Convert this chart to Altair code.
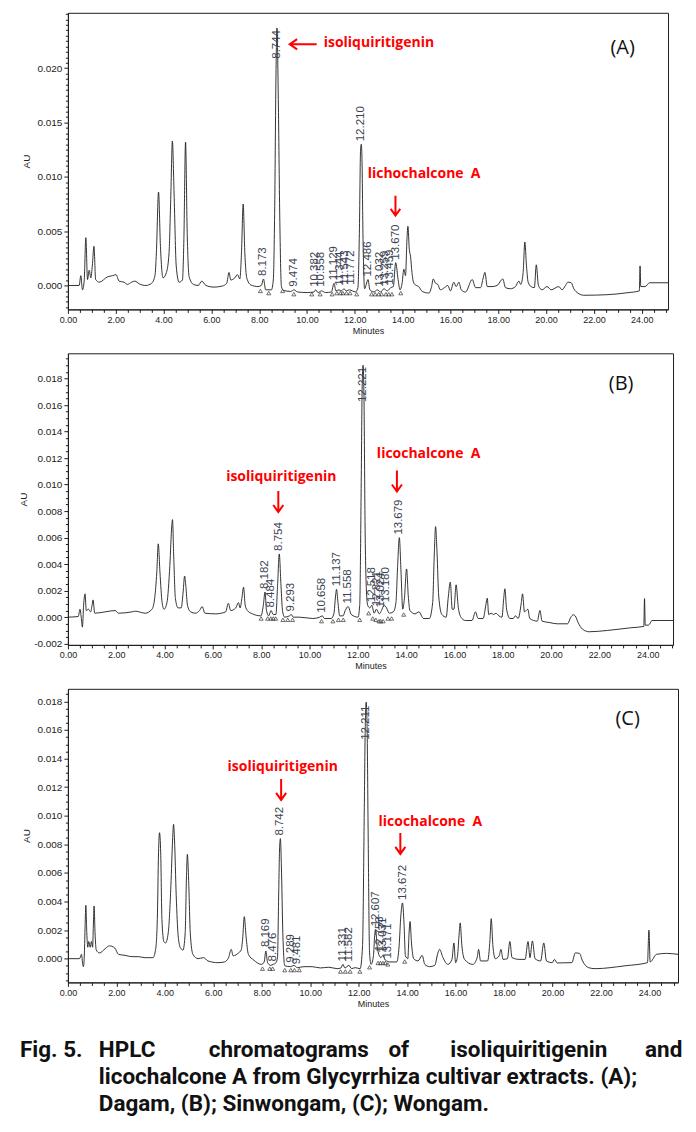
import altair as alt
import pandas as pd

# ---------------- Panel A (Dagam) trace ----------------
A_TIME = [0.00, 0.47, 0.54, 0.61, 0.68, 0.75, 0.82, 0.89, 0.96, 1.02, 1.09, 1.16, 1.31, 1.66, 1.87, 2.01, 2.14, 2.35,
          2.49, 2.66, 2.80, 2.98, 3.26, 3.50, 3.64, 3.70, 3.79, 3.87, 3.98, 4.12, 4.23, 4.30, 4.37, 4.44, 4.53, 4.65,
          4.79, 4.85, 4.92, 4.99, 5.07, 5.25, 5.45, 5.60, 5.77, 6.11, 6.46, 6.64, 6.74, 6.81, 6.98, 7.09, 7.19, 7.26,
          7.33, 7.40, 7.48, 7.65, 7.95, 8.09, 8.18, 8.27, 8.51, 8.59, 8.65, 8.70, 8.744, 8.80, 8.86, 8.93, 9.01, 9.32,
          9.46, 9.60, 10.01, 10.29, 10.36, 10.46, 10.60, 10.78, 11.02, 11.13, 11.21, 11.34, 11.43, 11.55, 11.64, 11.77,
          11.90, 12.03, 12.13, 12.19, 12.24, 12.27, 12.30, 12.34, 12.41, 12.48, 12.55, 12.63, 12.80, 12.94, 13.08,
          13.22, 13.36, 13.50, 13.61, 13.71, 13.81, 13.89, 13.98, 14.05, 14.12, 14.18, 14.22, 14.28, 14.33, 14.39,
          14.47, 14.58, 14.67, 14.82, 15.10, 15.21, 15.28, 15.38, 15.47, 15.58, 15.75, 15.89, 16.00, 16.14, 16.24,
          16.35, 16.45, 16.63, 16.91, 17.05, 17.26, 17.37, 17.44, 17.54, 17.74, 17.95, 18.19, 18.30, 18.51, 18.72,
          18.86, 18.94, 19.04, 19.11, 19.18, 19.25, 19.37, 19.51, 19.59, 19.68, 19.83, 20.04, 20.21, 20.53, 20.67,
          20.81, 20.91, 21.05, 21.16, 21.33, 21.58, 22.55, 23.39, 23.90, 23.93, 23.96, 24.14, 24.33, 25.10]
A_AU = [0.0, 0.0, 0.0009, -0.0004, 0.0004, 0.0044, 0.00055, 0.0014, 0.0007, 0.0018, 0.0036, 0.00055, 0.0003, 0.0008,
        0.0009, 0.001, 0.0004, 0.0003, 0.0001, 0.0003, 0.0004, 0.00015, 0.0, 0.0002, 0.0009, 0.003, 0.0086, 0.0036,
        0.0007, 0.0012, 0.003, 0.0079, 0.0133, 0.0085, 0.0018, 0.0003, 0.0005, 0.0042, 0.0132, 0.0048, 0.0008, 0.0001,
        0.0, 0.0004, 0.0, -0.00015, -0.00005, 0.0002, 0.0012, 0.0005, 0.0007, 0.001, 0.0006, 0.003, 0.0075, 0.003,
        0.0007, 0.00005, -0.0001, 0.0, 0.0006, -0.0004, -0.0004, 0.0005, 0.0073, 0.019, 0.0237, 0.0171, 0.0064,
        -0.0001, -0.00045, -0.00055, -0.0004, -0.0006, -0.00065, -0.0006, -0.0004, -0.00065, -0.0005, -0.00065,
        -0.0006, 0.0002, -0.0005, -0.0004, -0.0005, -0.0003, -0.0005, -0.0004, -0.0005, -0.0006, -0.0002, 0.0048,
        0.0125, 0.013, 0.0116, 0.0048, -0.0003, 0.0001, 0.00055, -0.0004, -0.0006, -0.0004, -0.0006, -0.0003, -0.0005,
        -0.0002, -0.0001, 0.0021, 0.00055, -0.0004, 0.00025, 0.0015, 0.0009, 0.0042, 0.00545, 0.0033, 0.0027, 0.0012,
        0.0002, 0.0, -0.0001, -0.00055, -0.0007, -0.0001, 0.0006, 0.0002, 0.0001, -0.0004, -0.0002, 0.0, -0.0005,
        0.0003, -0.0001, 0.0003, -0.0004, -0.0006, 0.00055, -0.0002, -0.0002, 0.0007, 0.0012, -0.0001, -0.0001, 0.0,
        0.0006, -0.0002, -0.0003, -0.0001, 0.0004, 0.0001, 0.0012, 0.004, 0.0018, 0.0003, -0.0001, -0.0002, 0.0019,
        0.0, -0.0004, -0.0001, -0.0004, -0.0001, -0.0004, 0.0, 0.0003, 0.00025, -0.0003, -0.0007, -0.0009, -0.00085,
        -0.00067, -0.0005, 0.0018, -0.0001, -0.0001, 0.00025, 0.00025]
A_PEAK_TEXT = ["8.173", "8.744", "9.474", "10.382", "10.558", "11.129", "11.344", "11.543", "11.772", "12.210",
               "12.486", "13.032", "13.259", "13.459", "13.670"]
A_PEAK_TIME = [8.18, 8.744, 9.47, 10.34, 10.58, 11.13, 11.37, 11.58, 11.82, 12.27, 12.57, 13.05, 13.25, 13.47, 13.73]
A_PEAK_AU = [0.0006, 0.0237, -0.0004, -0.0004, -0.0004, 0.0002, -0.0003, -0.0002, -0.0002, 0.013, 0.00055, -0.0004,
             -0.0003, -0.0002, 0.0021]
A_TRI_TIME = [8.05, 8.40, 8.98, 9.45, 10.20, 10.55, 11.05, 11.25, 11.40, 11.50, 11.65, 11.80, 12.08, 12.70, 12.85,
              13.00, 13.12, 13.30, 13.42, 13.55, 13.92]
A_TRI_AU = [-0.0005, -0.0007, -0.0005, -0.0008, -0.0008, -0.0008, -0.0008, -0.0007, -0.0007, -0.0007, -0.0007,
            -0.0007, -0.0008, -0.0008, -0.0008, -0.0008, -0.0008, -0.0008, -0.0008, -0.0008, -0.0007]

# ---------------- Panel B (Sinwongam) trace ----------------
B_TIME = [0.0, 0.43, 0.5, 0.55, 0.6, 0.65, 0.71, 0.76, 0.85, 0.94, 1.0, 1.04, 1.11, 1.54, 1.96, 2.09, 2.65, 2.79, 3.2,
          3.48, 3.59, 3.68, 3.74, 3.81, 3.9, 3.98, 4.1, 4.22, 4.3, 4.33, 4.38, 4.45, 4.56, 4.69, 4.77, 4.83, 4.88, 4.95,
          5.08, 5.28, 5.45, 5.56, 5.67, 6.12, 6.53, 6.64, 6.74, 6.95, 7.06, 7.13, 7.2, 7.27, 7.34, 7.43, 7.64, 7.99,
          8.09, 8.16, 8.22, 8.31, 8.41, 8.5, 8.61, 8.68, 8.75, 8.82, 8.89, 8.97, 9.17, 9.25, 9.33, 9.58, 10.14, 10.42,
          10.53, 10.62, 10.9, 11.01, 11.08, 11.12, 11.18, 11.25, 11.39, 11.48, 11.6, 11.73, 12.01, 12.08, 12.14, 12.18,
          12.22, 12.26, 12.3, 12.36, 12.41, 12.5, 12.58, 12.68, 12.77, 12.89, 12.98, 13.09, 13.19, 13.3, 13.47, 13.58,
          13.65, 13.72, 13.79, 13.86, 13.93, 14.02, 14.09, 14.16, 14.37, 14.53, 14.72, 14.96, 15.1, 15.17, 15.22,
          15.28, 15.35, 15.48, 15.66, 15.74, 15.83, 15.91, 15.98, 16.07, 16.16, 16.27, 16.45, 16.73, 16.87, 16.98,
          17.19, 17.3, 17.36, 17.42, 17.52, 17.63, 17.72, 17.84, 17.97, 18.04, 18.09, 18.16, 18.3, 18.43, 18.53,
          18.64, 18.77, 18.82, 18.9, 19.04, 19.12, 19.43, 19.54, 19.63, 19.92, 20.26, 20.68, 20.82, 20.92, 21.0,
          21.12, 21.3, 21.58, 22.34, 23.3, 23.84, 23.87, 23.9, 24.04, 24.18, 25.05]
B_AU = [0.0, 0.00005, 0.0006, 0.0, -0.00075, 0.0009, 0.00176, 0.0005, 0.0006, 0.0004, 0.0009, 0.0013, 0.0003, 0.0004,
        0.0005, 0.0003, 0.0004, 0.00045, 0.0003, 0.0006, 0.0014, 0.0034, 0.00553, 0.0034, 0.0011, 0.0006, 0.0011,
        0.0039, 0.0069, 0.00736, 0.0046, 0.0014, 0.0007, 0.0007, 0.0019, 0.0031, 0.0024, 0.0009, 0.0004, 0.0003,
        0.0005, 0.0008, 0.0003, 0.00025, 0.0004, 0.00105, 0.0005, 0.0007, 0.0011, 0.0007, 0.0014, 0.00226, 0.0009,
        0.0005, 0.00025, 0.0001, 0.0009, 0.0019, 0.0005, 0.0001, 0.0005, 0.0002, 0.0002, 0.0024, 0.00477, 0.0024,
        0.0004, 0.0, 0.0001, 0.0002, 0.0, 0.0, -0.0001, 0.0, 0.0001, -0.0001, -0.0001, 0.00025, 0.0016, 0.0021, 0.0011,
        0.0001, 0.0001, 0.0005, 0.0008, 0.0002, 0.0, 0.0009, 0.0097, 0.0172, 0.019, 0.016, 0.0072, 0.0019, 0.0009,
        0.0007, 0.0009, 0.0003, 0.0006, 0.00025, 0.0005, 0.0009, 0.0007, 0.0003, 0.0004, 0.0011, 0.0039, 0.006,
        0.0034, 0.0006, 0.0014, 0.00364, 0.0016, 0.0005, 0.00025, 0.0004, -0.0001, -0.0001, 0.0011, 0.0049, 0.00683,
        0.0049, 0.0016, 0.0002, 0.0, 0.0014, 0.00264, 0.0006, 0.0006, 0.00244, 0.00075, 0.0, -0.00025, -0.00025,
        0.0004, -0.0001, -0.0001, 0.0009, 0.00143, 0.0002, 0.0003, 0.0002, 0.0003, 0.0001, 0.0, 0.0014, 0.00214,
        0.0006, -0.0001, -0.0001, 0.0001, -0.0001, 0.0011, 0.00176, 0.0004, 0.0006, -0.0001, -0.0003, 0.0005, -0.0003,
        -0.0004, -0.0005, -0.0005, 0.0, 0.00018, 0.0001, -0.0004, -0.0009, -0.0011, -0.001, -0.0008, -0.0007, 0.0014,
        -0.0006, -0.0006, -0.00025, -0.00025]
B_PEAK_TEXT = ["8.182", "8.484", "8.754", "9.293", "10.658", "11.137", "11.558", "12.221", "12.518", "12.821",
               "13.024", "13.180", "13.679"]
B_PEAK_TIME = [8.15, 8.41, 8.75, 9.25, 10.53, 11.12, 11.58, 12.22, 12.57, 12.80, 12.98, 13.17, 13.72]
B_PEAK_AU = [0.0019, 0.0005, 0.00477, 0.0002, 0.0001, 0.0021, 0.0008, 0.019, 0.0009, 0.0006, 0.0005, 0.0009, 0.006]
B_TRI_TIME = [8.00, 8.27, 8.40, 8.50, 8.60, 8.90, 9.10, 9.30, 10.50, 10.97, 11.20, 11.40, 12.08, 12.45, 12.62, 12.75,
              12.88, 12.95, 13.05, 13.25, 13.40, 13.90]
B_TRI_AU = [-0.0001, -0.0001, -0.0001, -0.0001, -0.0001, -0.0002, -0.0002, -0.0002, -0.0003, -0.0003, -0.0002,
            -0.0002, -0.0002, 0.0003, -0.0001, -0.0002, -0.0003, -0.0003, -0.0003, -0.0001, -0.0001, 0.0002]

# ---------------- Panel C (Wongam) trace ----------------
C_TIME = [0.0, 0.48, 0.56, 0.61, 0.64, 0.68, 0.71, 0.74, 0.78, 0.82, 0.86, 0.92, 0.97, 1.02, 1.05, 1.08, 1.12, 1.17,
          1.3, 1.54, 1.71, 1.93, 2.09, 2.36, 2.64, 2.91, 3.18, 3.51, 3.62, 3.69, 3.74, 3.78, 3.83, 3.88, 3.96, 4.03,
          4.14, 4.25, 4.32, 4.36, 4.4, 4.47, 4.55, 4.64, 4.75, 4.84, 4.89, 4.93, 4.99, 5.05, 5.16, 5.37, 5.6, 5.78,
          6.19, 6.46, 6.63, 6.74, 6.82, 7.04, 7.15, 7.21, 7.28, 7.35, 7.45, 7.67, 7.99, 8.1, 8.17, 8.24, 8.37, 8.47,
          8.58, 8.65, 8.7, 8.74, 8.77, 8.81, 8.87, 8.95, 9.19, 9.33, 9.47, 9.74, 10.08, 10.42, 10.77, 11.11, 11.27,
          11.35, 11.43, 11.6, 11.71, 11.85, 12.06, 12.16, 12.23, 12.27, 12.31, 12.35, 12.39, 12.45, 12.51, 12.61,
          12.66, 12.7, 12.76, 12.83, 12.92, 12.99, 13.1, 13.29, 13.57, 13.67, 13.74, 13.81, 13.87, 13.93, 14.03,
          14.08, 14.12, 14.18, 14.27, 14.45, 14.62, 14.73, 14.93, 15.14, 15.27, 15.34, 15.48, 15.68, 15.85, 15.93,
          16.0, 16.08, 16.15, 16.19, 16.26, 16.37, 16.71, 16.89, 16.95, 17.03, 17.32, 17.42, 17.47, 17.54, 17.64,
          17.8, 17.87, 17.96, 18.14, 18.24, 18.33, 18.62, 18.87, 18.99, 19.07, 19.17, 19.28, 19.51, 19.64, 19.75,
          19.99, 20.08, 20.19, 20.8, 20.94, 21.11, 21.24, 21.49, 21.76, 22.99, 23.92, 23.98, 24.03, 24.29, 24.7, 25.18]
C_AU = [0.0, 0.0, 0.0003, -0.0004, -0.00056, 0.0004, 0.0023, 0.00373, 0.0018, 0.0008, 0.0012, 0.0008, 0.0012, 0.0008,
        0.0023, 0.00368, 0.0018, 0.0006, 0.0004, 0.0007, 0.0009, 0.00075, 0.0003, 0.00023, 0.00014, 0.00014, 0.00007,
        0.00007, 0.00065, 0.00275, 0.0074, 0.00881, 0.0074, 0.00275, 0.0012, 0.0011, 0.0018, 0.0051, 0.0083, 0.0094,
        0.0083, 0.0044, 0.0016, 0.00077, 0.0006, 0.0018, 0.0055, 0.0073, 0.0051, 0.0018, 0.0003, 0.0, 0.00007,
        -0.00016, -0.00028, -0.00023, 0.00007, 0.00065, 0.0002, 0.0004, 0.0006, 0.00135, 0.00294, 0.0016, 0.0003,
        -0.0001, -0.0004, -0.00023, 0.00054, -0.00028, -0.00047, -0.0004, -0.0003, 0.00007, 0.0046, 0.0079, 0.0084,
        0.0065, 0.0018, -0.0005, -0.00056, -0.00047, -0.00063, -0.00056, -0.00056, -0.00065, -0.0006, -0.0007,
        -0.00065, -0.0004, -0.00065, -0.00047, -0.0007, -0.00063, -0.0007, 0.0009, 0.0102, 0.016, 0.01795, 0.016,
        0.009, 0.0004, -0.0004, 0.0002, 0.0016, 0.00205, 0.0009, 0.0003, 0.00007, 0.00023, -0.0001, -0.00023,
        -0.00023, 0.0009, 0.003, 0.0039, 0.0025, 0.0002, 0.0, 0.0018, 0.0026, 0.0011, 0.0, -0.00016, 0.00023, -0.0004,
        -0.00056, -0.00047, 0.0004, 0.00065, 0.00007, -0.0004, -0.00005, 0.0011, -0.00028, 0.0002, 0.0018, 0.0025,
        0.0009, -0.00005, -0.0004, 0.00007, 0.00065, -0.00016, -0.00016, 0.00135, 0.0028, 0.0009, 0.0, 0.0002,
        0.00065, -0.00005, 0.0, 0.0012, 0.00007, -0.00005, -0.00005, 0.0012, 0.00007, 0.00124, 0.0, -0.00016, 0.0011,
        -0.00016, -0.00028, -0.00005, -0.0003, -0.00028, 0.0004, 0.00037, -0.00016, -0.00063, -0.0007, -0.0005,
        -0.00028, 0.002, -0.00023, 0.0003, 0.00037, 0.0003]
C_PEAK_TEXT = ["8.169", "8.476", "8.742", "9.289", "9.481", "11.331", "11.582", "12.211", "12.607", "12.753",
               "13.031", "13.171", "13.672"]
C_PEAK_TIME = [8.17, 8.47, 8.77, 9.20, 9.45, 11.35, 11.60, 12.31, 12.72, 12.86, 13.02, 13.20, 13.81]
C_PEAK_AU = [0.0006, -0.0004, 0.0084, -0.0005, -0.0006, -0.0004, -0.0004, 0.01795, 0.00205, 0.0003, 0.0002,
             -0.0002, 0.0039]
C_TRI_TIME = [8.03, 8.33, 8.45, 8.95, 9.20, 9.35, 9.55, 11.25, 11.45, 11.65, 12.05, 12.45, 12.80, 12.90, 13.00,
              13.10, 13.20, 13.90]
C_TRI_AU = [-0.0007, -0.0007, -0.0007, -0.0008, -0.0008, -0.0008, -0.0008, -0.0009, -0.0009, -0.0009, -0.0009,
            -0.0006, -0.0003, -0.0003, -0.0003, -0.0003, -0.0004, -0.0002]

# ---------------- annotations ----------------
A_NOTE_TEXT = ["isoliquiritigenin", "lichochalcone\u00a0 A"]
A_NOTE_TIME = [10.70, 12.54]
A_NOTE_AU = [0.0223, 0.0103]
B_NOTE_TEXT = ["isoliquiritigenin", "licochalcone\u00a0 A"]
B_NOTE_TIME = [6.55, 12.79]
B_NOTE_AU = [0.01057, 0.0123]
C_NOTE_TEXT = ["isoliquiritigenin", "licochalcone\u00a0 A"]
C_NOTE_TIME = [6.59, 12.82]
C_NOTE_AU = [0.01338, 0.00953]

CAPTION_LINE1 = ["Fig. 5.", "HPLC", "chromatograms", "of", "isoliquiritigenin", "and"]
CAPTION_LINE2 = "licochalcone A from Glycyrrhiza cultivar extracts. (A);"
CAPTION_LINE3 = "Dagam, (B); Sinwongam, (C); Wongam."

RED = "#ff0000"
INK = "#1e1e1e"
LABEL_INK = "#3a4252"
DOWN = "M0,-1L0,1M-0.48,0.33L0,1L0.48,0.33"
LEFT = "M1,0L-1,0M-0.45,-0.38L-1,0L-0.45,0.38"


def steps(a, b, step):
    n = int(round((b - a) / step))
    return [round(a + i * step, 6) for i in range(n + 1)]


def panel(time, au, pk_t, pk_au, pk_txt, tri_t, tri_au, nt, ntt, nau, letter, letter_pos, arrows, cfg):
    xs = alt.Scale(domain=[0, cfg["xmax"]], nice=False, zero=False)
    ys = alt.Scale(domain=[cfg["ymin"], cfg["ymax"]], nice=False, zero=False)
    m = cfg["major"]
    ytest = f"abs(datum.value/{m} - round(datum.value/{m})) < 0.01 && datum.value < {cfg['ylabmax']}"
    y_axis = alt.Axis(
        values=steps(cfg["yt0"], cfg["yt1"], 0.0005),
        labelExpr=f"{ytest} ? (datum.value < 0 ? '-' + format(-datum.value, '.3f') : format(datum.value, '.3f')) : ''",
        tickSize={"condition": {"test": ytest, "value": 4}, "value": 2.5},
        labelFontSize={"condition": {"test": ytest, "value": 10}, "value": 0.1},
        labelOverlap=False, labelPadding=2, labelColor="#222",
        title="AU", titleFontSize=10, titleFontWeight="normal", titlePadding=5, titleColor="#222",
        grid=False, tickColor=INK, domainColor=INK,
    )
    xtest = "abs(datum.value/2 - round(datum.value/2)) < 0.01"
    x_axis = alt.Axis(
        values=steps(0, 25, 0.5),
        labelExpr=f"{xtest} ? format(datum.value, '.2f') : ''",
        tickSize={"condition": {"test": xtest, "value": 4}, "value": 3},
        labelOverlap=False, labelFlush=False, labelFontSize=9, labelPadding=2, labelColor="#222",
        title="Minutes", titleFontSize=9, titleFontWeight="normal", titlePadding=2, titleColor="#222",
        grid=False, tickColor=INK, domainColor=INK,
    )
    X = lambda f: alt.X(f, scale=xs, axis=x_axis, title="Minutes")
    Y = lambda f: alt.Y(f, scale=ys, axis=y_axis, title="AU")

    trace = alt.Chart(pd.DataFrame({"t": time, "au": au})).mark_line(
        color=INK, strokeWidth=0.9, interpolate="monotone").encode(x=X("t:Q"), y=Y("au:Q"))

    tri = alt.Chart(pd.DataFrame({"t": tri_t, "au": tri_au})).mark_point(
        shape="triangle-up", filled=False, size=16, strokeWidth=0.7, color="#333", opacity=1).encode(
        x=X("t:Q"), y=Y("au:Q"))

    pk = pd.DataFrame({"t": pk_t, "au": pk_au, "txt": pk_txt})
    labels = alt.Chart(pk).transform_calculate(
        lab=f"min(datum.au, {cfg['cap']})").mark_text(
        angle=270, align="left", baseline="middle", dx=3, fontSize=11.5, font="Liberation Sans",
        color=LABEL_INK).encode(x=X("t:Q"), y=Y("lab:Q"), text="txt:N")

    notes = alt.Chart(pd.DataFrame({"t": ntt, "au": nau, "txt": nt})).mark_text(
        align="left", baseline="middle", fontSize=14, fontWeight="bold", font="Open Sans", color=RED).encode(
        x=X("t:Q"), y=Y("au:Q"), text="txt:N")

    let = alt.Chart(pd.DataFrame({"t": [letter_pos[0]], "au": [letter_pos[1]], "txt": [letter]})).mark_text(
        align="center", baseline="middle", fontSize=20, font="Open Sans", color="#111").encode(
        x=X("t:Q"), y=Y("au:Q"), text="txt:N")

    layers = [trace, tri, labels, notes, let]
    for (shape, size, at, aau) in arrows:
        layers.append(alt.Chart(pd.DataFrame({"t": [at], "au": [aau]})).mark_point(
            shape=shape, size=size, filled=False, stroke=RED, strokeWidth=2, opacity=1).encode(
            x=X("t:Q"), y=Y("au:Q")))
    return layers, cfg


la, ca = panel(A_TIME, A_AU, A_PEAK_TIME, A_PEAK_AU, A_PEAK_TEXT, A_TRI_TIME, A_TRI_AU,
               A_NOTE_TEXT, A_NOTE_TIME, A_NOTE_AU, "(A)", (23.2, 0.0219),
               [(LEFT, 729, 9.84, 0.0222), (DOWN, 400, 13.7, 0.00735)],
               dict(xmax=25.1, ymin=-0.0022, ymax=0.0251, major=0.005, yt0=-0.002, yt1=0.025, cap=0.0206,
                    ylabmax=0.0201, w=601, h=297))
lb, cb = panel(B_TIME, B_AU, B_PEAK_TIME, B_PEAK_AU, B_PEAK_TEXT, B_TRI_TIME, B_TRI_AU,
               B_NOTE_TEXT, B_NOTE_TIME, B_NOTE_AU, "(B)", (22.9, 0.01757),
               [(DOWN, 441, 8.71, 0.00872), (DOWN, 441, 13.62, 0.01027)],
               dict(xmax=25.05, ymin=-0.00209, ymax=0.0199, major=0.002, yt0=-0.002, yt1=0.0195, cap=0.016,
                    ylabmax=0.0181, w=606, h=292))
lc, cc = panel(C_TIME, C_AU, C_PEAK_TIME, C_PEAK_AU, C_PEAK_TEXT, C_TRI_TIME, C_TRI_AU,
               C_NOTE_TEXT, C_NOTE_TIME, C_NOTE_AU, "(C)", (23.1, 0.0168),
               [(DOWN, 441, 8.8, 0.01184), (DOWN, 441, 13.72, 0.00806)],
               dict(xmax=25.18, ymin=-0.00166, ymax=0.01888, major=0.002, yt0=-0.0015, yt1=0.0185, cap=0.0151,
                    ylabmax=0.0181, w=611, h=294))

# caption (text layout under panel C, pixel offsets relative to panel C plot origin)
CAP_FONT = dict(fontSize=22.5, fontWeight="bold", font="Roboto", color="#111",
                align="left", baseline="middle")
line1_x = [-48, 31, 141, 321, 383, 578]
cap_layers = []
for w, px in zip(CAPTION_LINE1, line1_x):
    cap_layers.append(alt.Chart().mark_text(**CAP_FONT).encode(
        x=alt.value(px), y=alt.value(362), text=alt.value(w)))
cap_layers.append(alt.Chart().mark_text(**CAP_FONT).encode(
    x=alt.value(31), y=alt.value(389), text=alt.value(CAPTION_LINE2)))
cap_layers.append(alt.Chart().mark_text(**CAP_FONT).encode(
    x=alt.value(31), y=alt.value(416), text=alt.value(CAPTION_LINE3)))

A = alt.layer(*la).properties(width=ca["w"], height=ca["h"])
B = alt.layer(*lb).properties(width=cb["w"], height=cb["h"])
C = alt.layer(*(lc + cap_layers)).properties(width=cc["w"], height=cc["h"])

chart = alt.vconcat(A, B, C, spacing=16).properties(
    padding={"left": 10, "top": 3, "right": 5, "bottom": 5}
).configure_view(stroke=INK, strokeWidth=1).configure_axis(
    labelFont="Liberation Sans", titleFont="Liberation Sans")

chart.save("out.html", embed_options={"renderer": "svg", "actions": False})
